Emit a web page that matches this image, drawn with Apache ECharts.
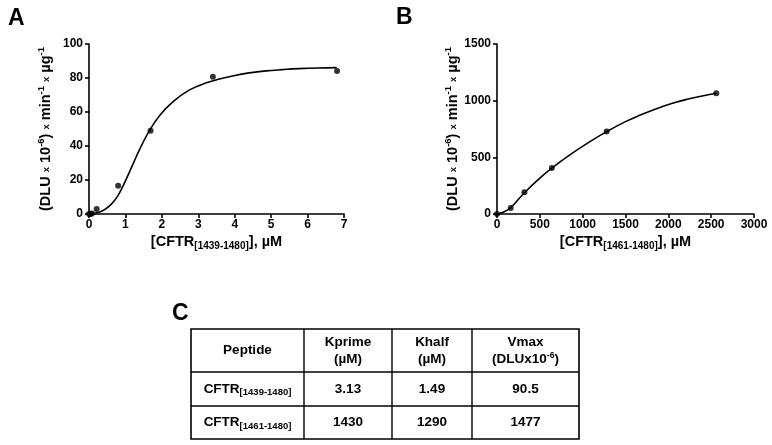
<!DOCTYPE html>
<html>
<head>
<meta charset="utf-8">
<script src="https://cdn.jsdelivr.net/npm/echarts@6/dist/echarts.min.js"></script>
<style>
html,body{margin:0;padding:0;background:#fff;}
#main{width:772px;height:445px;}
</style>
</head>
<body>
<div id="main"></div>
<script>
// ---- Data ----
// Panel A: measured points
var aPointsX = [0, 0.04, 0.08, 0.21, 0.80, 1.69, 3.40, 6.81];
var aPointsY = [0, 0, 0.3, 2.9, 16.6, 48.9, 80.8, 84.1];
// Panel A: fitted curve
var aCurveX = [0, 0.2, 0.4, 0.6, 0.8, 1.0, 1.2, 1.4, 1.67, 1.94, 2.3, 2.76, 3.2, 3.58, 3.94, 4.4, 4.86, 5.3, 5.77, 6.3, 6.8];
var aCurveY = [0, 0.6, 2.2, 5.5, 11, 19.5, 29, 38.5, 49.5, 58, 66, 73, 77, 79.4, 81.2, 83, 84.2, 84.9, 85.5, 85.9, 86.1];
// Panel B: measured points
var bPointsX = [0, 160, 320, 640, 1280, 2560];
var bPointsY = [0, 52, 192, 405, 727, 1066];
// Panel B: fitted curve
var bCurveX = [0, 80, 160, 320, 500, 640, 850, 1085, 1281, 1500, 1650, 1830, 2020, 2220, 2410, 2565];
var bCurveY = [0, 18, 55, 188, 317, 405, 522, 639, 727, 815, 866, 920, 971, 1012, 1044, 1065];
// Axis ticks [min, max, interval]
var aXTicks = [0, 7, 1];
var aYTicks = [0, 100, 20];
var bXTicks = [0, 3000, 500];
var bYTicks = [0, 1500, 500];
// Table
var tableHeader = [['Peptide'], ['Kprime', '(µM)'], ['Khalf', '(µM)'], ['Vmax', '(DLUx10', '-6', ')']];
var tablePeptides = [['CFTR', '[1439-1480]'], ['CFTR', '[1461-1480]']];
var tableKprime = ['3.13', '1430'];
var tableKhalf = ['1.49', '1290'];
var tableVmax = ['90.5', '1477'];

function zip(xs, ys) { return xs.map(function (x, i) { return [x, ys[i]]; }); }

var FONT = 'Arial, "Liberation Sans", sans-serif';
var black = '#000';

var richName = {
  b: { fontFamily: FONT, fontWeight: 'bold', fontSize: 14.5, color: black },
  s: { fontFamily: FONT, fontWeight: 'bold', fontSize: 9.5, color: black },
  sup: { fontFamily: FONT, fontWeight: 'bold', fontSize: 9.5, color: black, padding: [0, 0, 10, 0] },
  sub: { fontFamily: FONT, fontWeight: 'bold', fontSize: 10, color: black, padding: [8, 0, 0, 0] }
};
var yName = '{b|(DLU }{s|x}{b| 10}{sup|-6}{b|) }{s|x}{b| min}{sup|-1}{b| }{s|x}{b| µg}{sup|-1}';

function xAx(grid, t, sub) {
  return {
    type: 'value', gridIndex: grid, min: t[0], max: t[1], interval: t[2],
    name: '{b|[CFTR}{sub|' + sub + '}{b|], µM}',
    nameLocation: 'middle', nameGap: 19,
    nameTextStyle: { rich: richName },
    axisLine: { lineStyle: { color: black, width: 1.6 } },
    axisTick: { length: 4, lineStyle: { color: black, width: 1.6 } },
    axisLabel: { fontFamily: FONT, fontWeight: 'bold', fontSize: 12, color: black, margin: 5,
      formatter: function (v) { return String(v); } },
    splitLine: { show: false }
  };
}
function yAx(grid, t) {
  return {
    type: 'value', gridIndex: grid, min: t[0], max: t[1], interval: t[2],
    name: yName, nameLocation: 'middle', nameRotate: 90, nameGap: 33,
    nameTextStyle: { rich: richName },
    axisLine: { show: true, lineStyle: { color: black, width: 1.6 } },
    axisTick: { show: true, length: 4, lineStyle: { color: black, width: 1.6 } },
    axisLabel: { fontFamily: FONT, fontWeight: 'bold', fontSize: 12, color: black, margin: 6,
      formatter: function (v) { return String(v); } },
    splitLine: { show: false }
  };
}

// Table graphics
var colX = [191, 304, 392, 472, 579];
var rowY = [329, 372, 406, 439];
var g = [];
g.push({ type: 'text', left: 172, top: 302, style: { text: 'C', font: 'bold 23px ' + FONT, fill: black } });
g.push({ type: 'text', left: 8, top: 7, style: { text: 'A', font: 'bold 23px ' + FONT, fill: black } });
g.push({ type: 'text', left: 396, top: 6, style: { text: 'B', font: 'bold 23px ' + FONT, fill: black } });
g.push({ type: 'rect', shape: { x: colX[0], y: rowY[0], width: colX[4] - colX[0], height: rowY[3] - rowY[0] }, style: { fill: 'none', stroke: black, lineWidth: 1.6 } });
[colX[1], colX[2], colX[3]].forEach(function (x) {
  g.push({ type: 'line', shape: { x1: x, y1: rowY[0], x2: x, y2: rowY[3] }, style: { stroke: black, lineWidth: 1.4 } });
});
[rowY[1], rowY[2]].forEach(function (y) {
  g.push({ type: 'line', shape: { x1: colX[0], y1: y, x2: colX[4], y2: y }, style: { stroke: black, lineWidth: 1.4 } });
});
var tRich = {
  b: { fontFamily: FONT, fontWeight: 'bold', fontSize: 13.5, color: black, lineHeight: 17 },
  sup: { fontFamily: FONT, fontWeight: 'bold', fontSize: 8.5, color: black, padding: [0, 0, 7, 0] },
  sub: { fontFamily: FONT, fontWeight: 'bold', fontSize: 9.5, color: black, padding: [7, 0, 0, 0] }
};
function cellText(ci, ri, txt) {
  var cx = (colX[ci] + colX[ci + 1]) / 2;
  var cy = (rowY[ri] + rowY[ri + 1]) / 2;
  g.push({ type: 'text', x: cx, y: cy, style: { text: txt, rich: tRich, align: 'center', verticalAlign: 'middle' } });
}
cellText(0, 0, '{b|' + tableHeader[0][0] + '}');
cellText(1, 0, '{b|' + tableHeader[1][0] + '}\n{b|' + tableHeader[1][1] + '}');
cellText(2, 0, '{b|' + tableHeader[2][0] + '}\n{b|' + tableHeader[2][1] + '}');
cellText(3, 0, '{b|' + tableHeader[3][0] + '}\n{b|' + tableHeader[3][1] + '}{sup|' + tableHeader[3][2] + '}{b|' + tableHeader[3][3] + '}');
for (var r = 0; r < 2; r++) {
  cellText(0, r + 1, '{b|' + tablePeptides[r][0] + '}{sub|' + tablePeptides[r][1] + '}');
  cellText(1, r + 1, '{b|' + tableKprime[r] + '}');
  cellText(2, r + 1, '{b|' + tableKhalf[r] + '}');
  cellText(3, r + 1, '{b|' + tableVmax[r] + '}');
}

var chart = echarts.init(document.getElementById('main'), null, { renderer: 'canvas' });
chart.setOption({
  animation: false,
  backgroundColor: '#fff',
  grid: [
    { left: 89, top: 44, width: 255, height: 170 },
    { left: 497, top: 44, width: 257, height: 170 }
  ],
  xAxis: [xAx(0, aXTicks, '[1439-1480]'), xAx(1, bXTicks, '[1461-1480]')],
  yAxis: [yAx(0, aYTicks), yAx(1, bYTicks)],
  series: [
    { type: 'line', xAxisIndex: 0, yAxisIndex: 0, data: zip(aCurveX, aCurveY), smooth: 0.4, showSymbol: false, lineStyle: { color: black, width: 1.6 }, z: 2 },
    { type: 'scatter', xAxisIndex: 0, yAxisIndex: 0, data: zip(aPointsX, aPointsY), symbolSize: 6, itemStyle: { color: black }, z: 3 },
    { type: 'line', xAxisIndex: 1, yAxisIndex: 1, data: zip(bCurveX, bCurveY), smooth: 0.4, showSymbol: false, lineStyle: { color: black, width: 1.6 }, z: 2 },
    { type: 'scatter', xAxisIndex: 1, yAxisIndex: 1, data: zip(bPointsX, bPointsY), symbolSize: 6, itemStyle: { color: black }, z: 3 }
  ],
  graphic: g
});
</script>
</body>
</html>
